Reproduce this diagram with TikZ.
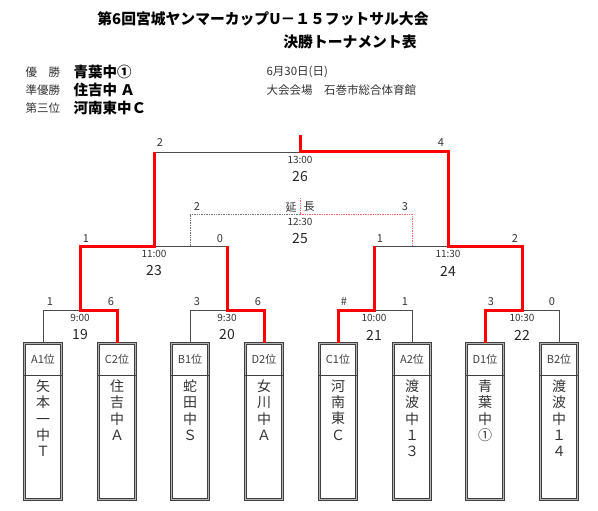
\documentclass[tikz,border=0pt]{standalone}
\usepackage{fontspec}
\setmainfont{Noto Sans CJK JP}
\usetikzlibrary{calc}

\tikzset{
	win/.style={red, line width=3pt},
	lose/.style={black!70, line width=0.8pt},
	losedot/.style={black!55, line width=0.7pt, densely dotted},
	windot/.style={red!60, line width=0.7pt, densely dotted},
	teambox/.style={draw=black!75, double=black!30, double distance=1.6pt,
		line width=0.7pt, minimum width=37pt, minimum height=156pt, inner sep=0pt},
	teamhead/.style={font=\fontsize{11}{12}\selectfont, text=black!75},
	teamname/.style={anchor=north, align=center, text=black!80,
		font=\fontsize{14}{16.3}\selectfont},
	scorelab/.style={font=\fontsize{11}{12}\selectfont, text=black!80},
	timelab/.style={font=\fontsize{10}{11}\selectfont, text=black!80},
	numlab/.style={font=\fontsize{14}{15}\selectfont, text=black!85},
	infolab/.style={anchor=west, font=\fontsize{11.5}{13}\selectfont, text=black!80},
	ranklab/.style={anchor=west, font=\fontsize{14.5}{16}\selectfont\bfseries}
}

% match point, time and match number
\newcommand{\match}[4]{
	\coordinate (m#1) at (#2,#3);
	\node[timelab] (tm#1) at (#2,#3+8) {#4};
	\node[numlab] (no#1) at (#2,#3+25) {#1};
}
\newcommand{\score}[3]{
	\node[scorelab] (#1) at (#2) {#3};
}

\begin{document}
\begin{tikzpicture}
	[x=1pt, y=-1pt]
	\useasboundingbox (0,0) rectangle (598,511);
	% \draw [help lines, step=10] (0,0) grid (598,511);

	% title
	\node[font=\fontsize{14.8}{16}\selectfont\bfseries] (title) at (263,19)
		{第6回宮城ヤンマーカップU－１５フットサル大会};
	\node[font=\fontsize{14.8}{16}\selectfont\bfseries] (subtitle) at (350,42)
		{決勝トーナメント表};
	\node[infolab] (r1) at (22,72) {優　勝};
	\node[infolab] (r2) at (22,90) {準優勝};
	\node[infolab] (r3) at (22,108) {第三位};
	\node[ranklab] (w1) at (70,72) {青葉中①};
	\node[ranklab] (w2) at (70,90) {住吉中 Ａ};
	\node[ranklab] (w3) at (70,108) {河南東中Ｃ};
	\node[infolab] (day) at (263,72) {6月30日(日)};
	\node[infolab] (hall) at (263,90) {大会会場　石巻市総合体育館};

	% teams
	\foreach \n/\x/\lab/\name in {1/43/A1位/{矢\\本\\一\\中\\Ｔ},
		2/117/C2位/{住\\吉\\中\\Ａ}, 3/190/B1位/{蛇\\田\\中\\Ｓ},
		4/264/D2位/{女\\川\\中\\Ａ}, 5/338/C1位/{河\\南\\東\\Ｃ},
		6/412/A2位/{渡\\波\\中\\１\\３}, 7/485/D1位/{青\\葉\\中\\①},
		8/559/B2位/{渡\\波\\中\\１\\４}}{
		\node[teambox] (t\n) at (\x,421.5) {};
		\draw[black!75, line width=1pt] ([yshift=-32]t\n.north west)
			-- ([yshift=-32]t\n.north east);
		\node[teamhead] (h\n) at ([yshift=-16]t\n.north) {\lab};
		\node[teamname] (n\n) at ([yshift=-33]t\n.north) {\name};
	}

	% matches
	\match{19}{80}{310}{9:00}
	\match{20}{227}{310}{9:30}
	\match{21}{374}{310}{10:00}
	\match{22}{522}{310}{10:30}
	\match{23}{154}{246}{11:00}
	\match{24}{448}{246}{11:30}
	\match{25}{300}{214}{12:30}
	\match{26}{300}{152}{13:00}
	\coordinate (top) at (300,135);

	% losers
	\draw[lose] (t1.north) |- (m19);
	\draw[lose] (t3.north) |- (m20);
	\draw[lose] (t6.north) |- (m21);
	\draw[lose] (t8.north) |- (m22);
	\draw[lose] (m20 |- m23) -- (m23);
	\draw[lose] (m21 |- m24) -- (m24);
	\draw[lose] (m23 |- m26) -- (m26);
	% third place
	\draw[losedot] (190,246) |- (m25);
	\draw[windot] (m25) -| (412,246);
	\draw[windot] (m25) -- (300,198);
	% winners
	\draw[win] (t2.north) |- (m19) |- (m23) -- (m23 |- m26);
	\draw[win] (t4.north) |- (m20) -- (m20 |- m23);
	\draw[win] (t5.north) |- (m21) -- (m21 |- m24);
	\draw[win] (t7.north) |- (m22) |- (m24) |- (m26) -- (top);

	% scores
	\score{s1}{50,302}{1}   \score{s2}{111,302}{6}
	\score{s3}{197,302}{3}  \score{s4}{258,302}{6}
	\score{s5}{344,302}{\#} \score{s6}{405,302}{1}
	\score{s7}{491,302}{3}  \score{s8}{552,302}{0}
	\score{s9}{86,239}{1}   \score{s10}{220,239}{0}
	\score{s11}{380,239}{1} \score{s12}{515,239}{2}
	\score{s13}{197,207}{2} \score{s14}{405,207}{3}
	\score{s15}{160,143}{2} \score{s16}{441,143}{4}
	\node[scorelab] (ext1) at (291,207) {延};
	\node[scorelab] (ext2) at (309,207) {長};
\end{tikzpicture}
\end{document}
